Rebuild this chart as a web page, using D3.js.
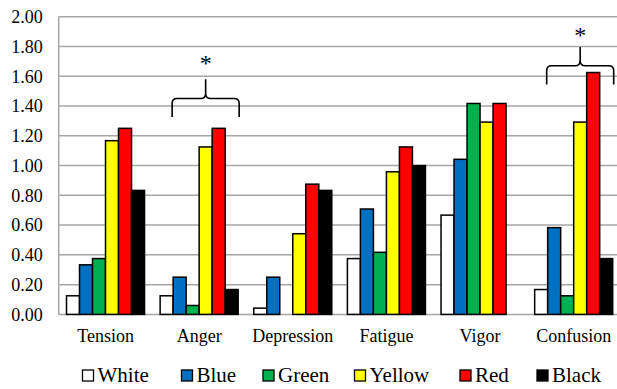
<!DOCTYPE html>
<html>
<head>
<meta charset="utf-8">
<script src="https://cdn.jsdelivr.net/npm/d3@7"></script>
<style>
  body { margin: 0; background: #fff; }
</style>
</head>
<body>
<div id="chart"></div>
<script>
// data
var categories = ["Tension", "Anger", "Depression", "Fatigue", "Vigor", "Confusion"];
var colorNames = ["White", "Blue", "Green", "Yellow", "Red", "Black"];
var colorFills = ["#ffffff", "#0070c0", "#00b050", "#ffff00", "#ff0000", "#000000"];
var white  = [0.125, 0.125, 0.042, 0.375, 0.667, 0.167];
var blue   = [0.333, 0.250, 0.250, 0.708, 1.042, 0.583];
var green  = [0.375, 0.060, 0.000, 0.417, 1.417, 0.125];
var yellow = [1.167, 1.125, 0.542, 0.958, 1.292, 1.292];
var red    = [1.250, 1.250, 0.875, 1.125, 1.417, 1.625];
var black  = [0.833, 0.167, 0.833, 1.000, 0.000, 0.375];
var yTicks = [0, 0.2, 0.4, 0.6, 0.8, 1.0, 1.2, 1.4, 1.6, 1.8, 2.0];
// significance marks: category, brace bottom, brace line, tip
var marks = [
  {cat: "Anger", y0: 1.326, y1: 1.45, y2: 1.58, star: 1.71},
  {cat: "Confusion", y0: 1.545, y1: 1.67, y2: 1.797, star: 1.90}
];

var series = [white, blue, green, yellow, red, black];
var FONT = "'Liberation Serif', 'Times New Roman', serif";

var W = 617, H = 389;
var svg = d3.select("#chart").append("svg")
  .attr("width", W).attr("height", H)
  .attr("font-family", FONT);

var x = d3.scaleBand().domain(categories).range([58.7, 620.5]).paddingInner(0).paddingOuter(0);
var inner = d3.scaleBand().domain(colorNames).range([7.8, x.bandwidth() - 7.8]);
var y = d3.scaleLinear().domain([0, 2]).range([314.4, 16.7]);

// gridlines
svg.append("g").selectAll("line")
  .data(yTicks)
  .enter().append("line")
  .attr("x1", 58.7).attr("x2", W)
  .attr("y1", function(d) { return y(d); })
  .attr("y2", function(d) { return y(d); })
  .attr("stroke", "#a6a6a6").attr("stroke-width", 1.5);

// left axis
svg.append("line")
  .attr("x1", 58.7).attr("x2", 58.7)
  .attr("y1", y(2)).attr("y2", y(0))
  .attr("stroke", "#a6a6a6").attr("stroke-width", 1.5);

var yAxis = svg.append("g")
  .attr("transform", "translate(58.7,0)")
  .call(d3.axisLeft(y).tickValues(yTicks).tickFormat(d3.format(".2f")).tickSize(0).tickPadding(16))
  .attr("font-family", FONT).attr("font-size", 18);
yAxis.select(".domain").remove();
yAxis.selectAll("text").attr("fill", "#000");

// bars
series.forEach(function(vals, si) {
  svg.append("g").selectAll("rect")
    .data(vals.map(function(v, i) { return {cat: categories[i], v: v}; }).filter(function(d) { return d.v > 0; }))
    .enter().append("rect")
    .attr("x", function(d) { return x(d.cat) + inner(colorNames[si]); })
    .attr("width", inner.bandwidth())
    .attr("y", function(d) { return y(d.v); })
    .attr("height", function(d) { return y(0) - y(d.v); })
    .attr("fill", colorFills[si])
    .attr("stroke", "#000").attr("stroke-width", 1.5);
});

// category labels
var xAxis = svg.append("g")
  .attr("transform", "translate(0," + y(0) + ")")
  .call(d3.axisBottom(x).tickSize(0).tickPadding(15))
  .attr("font-family", FONT).attr("font-size", 18);
xAxis.select(".domain").remove();
xAxis.selectAll("text").attr("fill", "#000");

// braces and asterisks
marks.forEach(function(m) {
  var xl = x(m.cat) + inner("Blue") - 1;
  var xr = x(m.cat) + inner("Black") + inner.bandwidth() + 1;
  var xm = (xl + xr) / 2;
  var b = y(m.y0), l = y(m.y1), t = y(m.y2), r = 5;
  var p = "M" + xl + "," + b +
    " L" + xl + "," + (l + r) +
    " Q" + xl + "," + l + " " + (xl + r) + "," + l +
    " L" + (xm - r) + "," + l +
    " Q" + xm + "," + l + " " + xm + "," + (l - r) +
    " L" + xm + "," + t +
    " M" + xm + "," + (l - r) +
    " Q" + xm + "," + l + " " + (xm + r) + "," + l +
    " L" + (xr - r) + "," + l +
    " Q" + xr + "," + l + " " + xr + "," + (l + r) +
    " L" + xr + "," + b;
  svg.append("path").attr("d", p)
    .attr("fill", "none").attr("stroke", "#000").attr("stroke-width", 1.6);
  svg.append("text")
    .attr("x", xm).attr("y", y(m.star) + 11)
    .attr("text-anchor", "middle")
    .attr("font-size", 24)
    .text("*");
});

// legend
var legendX = [82.5, 181.5, 263, 354.5, 460, 537];
var lg = svg.append("g").selectAll("g")
  .data(colorNames)
  .enter().append("g")
  .attr("transform", function(d, i) { return "translate(" + legendX[i] + ",370)"; });
lg.append("rect")
  .attr("width", 11).attr("height", 11)
  .attr("fill", function(d, i) { return colorFills[i]; })
  .attr("stroke", "#000").attr("stroke-width", 1.3);
lg.append("text")
  .attr("x", 15).attr("y", 12)
  .attr("font-size", 21)
  .text(function(d) { return d; });
</script>
</body>
</html>
